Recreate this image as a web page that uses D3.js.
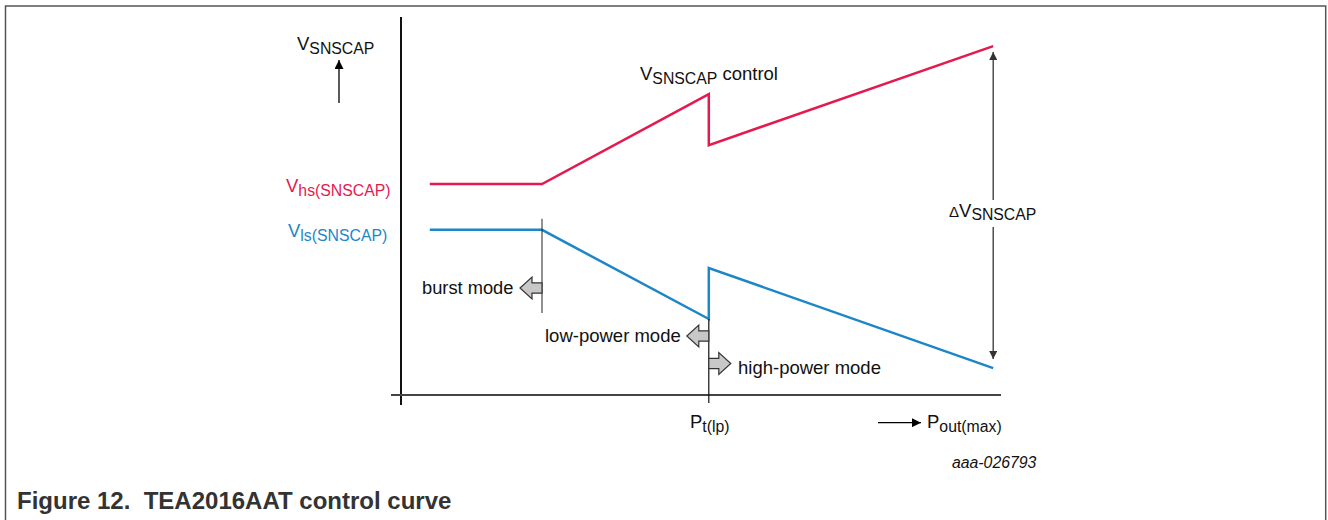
<!DOCTYPE html>
<html>
<head>
<meta charset="utf-8">
<script src="https://cdn.jsdelivr.net/npm/d3@7"></script>
<style>
  html, body { margin: 0; padding: 0; background: #fff; }
  svg { display: block; font-family: "Liberation Sans", Arial, Helvetica, sans-serif; }
</style>
</head>
<body>
<svg id="chart" width="1328" height="520"></svg>
<script>
// ---- data (normalised power 0..100, normalised voltage 0..100) ----
const hsX = [4.8, 23.5, 51.3, 51.3, 98.7];
const hsY = [55.8, 55.8, 79.6, 66.1, 92.3];
const lsX = [4.8, 23.5, 51.3, 51.3, 98.7];
const lsY = [43.7, 43.7, 20.1, 33.6, 7.1];
const burstX = 23.5;   // burst mode boundary
const ptlpX = 51.3;    // Pt(lp)
const deltaX = 98.7;   // ΔV marker position
const seriesNames = ["hs(SNSCAP)", "ls(SNSCAP)"];
const colors = ["#e6194f", "#1c86c8"];

const svg = d3.select("#chart");
const x = d3.scaleLinear().domain([0, 100]).range([401, 1001]);
const y = d3.scaleLinear().domain([0, 100]).range([395, 17]);

// outer frame
svg.append("path").attr("d", "M5.5,520 V6 H1325.7 V520")
  .attr("fill", "none").attr("stroke", "#555").attr("stroke-width", 1.5);

// defs: arrowheads
const defs = svg.append("defs");
function marker(id, color, w, h) {
  defs.append("marker").attr("id", id).attr("viewBox", "0 0 10 10")
    .attr("refX", 10).attr("refY", 5).attr("markerUnits", "userSpaceOnUse")
    .attr("markerWidth", w).attr("markerHeight", h).attr("orient", "auto-start-reverse")
    .append("path").attr("d", "M0,0 L10,5 L0,10 Z").attr("fill", color);
}
marker("ah", "#000", 12, 9);
marker("ahg", "#333", 12, 8);

// axes
svg.append("line").attr("x1", x(0)).attr("x2", x(0)).attr("y1", y(100)).attr("y2", y(0) + 10)
  .attr("stroke", "#111").attr("stroke-width", 2);
svg.append("line").attr("x1", x(0) - 10).attr("x2", x(100)).attr("y1", y(0)).attr("y2", y(0))
  .attr("stroke", "#444").attr("stroke-width", 2);

// series lines
const line = d3.line().x(d => x(d[0])).y(d => y(d[1]));
[[hsX, hsY], [lsX, lsY]].forEach((s, i) => {
  svg.append("path").datum(s[0].map((v, j) => [v, s[1][j]]))
    .attr("d", line).attr("fill", "none").attr("stroke", colors[i])
    .attr("stroke-width", 2.5).attr("stroke-linejoin", "miter");
});

// vertical mode boundary markers
svg.append("line").attr("x1", x(burstX)).attr("x2", x(burstX))
  .attr("y1", y(lsY[1]) - 11).attr("y2", 313).attr("stroke", "#222").attr("stroke-width", 1);
svg.append("line").attr("x1", x(ptlpX)).attr("x2", x(ptlpX))
  .attr("y1", y(lsY[2])).attr("y2", y(0) + 8).attr("stroke", "#111").attr("stroke-width", 1.2);

// block arrows
function blockArrow(x0, cy, dir) {
  const shaftL = 10, headL = 12, sh = 5.2, hh = 11;
  const p = [
    [x0, cy - sh], [x0 + dir * shaftL, cy - sh], [x0 + dir * shaftL, cy - hh],
    [x0 + dir * (shaftL + headL), cy], [x0 + dir * shaftL, cy + hh],
    [x0 + dir * shaftL, cy + sh], [x0, cy + sh]
  ];
  svg.append("path").attr("d", "M" + p.map(d => d.join(",")).join("L") + "Z")
    .attr("fill", "#c8c8c8").attr("stroke", "#333").attr("stroke-width", 1.2);
}
blockArrow(x(burstX), 288, -1);
blockArrow(x(ptlpX), 336, -1);
blockArrow(x(ptlpX), 363.5, 1);

// text helpers
function subText(xp, yp, main, sub, color, mainSize, subSize, extra) {
  const t = svg.append("text").attr("x", xp).attr("y", yp).attr("fill", color)
    .attr("font-size", mainSize);
  t.append("tspan").text(main);
  t.append("tspan").attr("font-size", subSize).attr("dy", 3.5).text(sub);
  if (extra) t.append("tspan").attr("dy", -3.5).attr("font-size", mainSize).text(extra);
  return t;
}

// y-axis label + up arrow
subText(297, 50, "V", "SNSCAP", "#111", 18.5, 15.8);
svg.append("line").attr("x1", 339).attr("x2", 339).attr("y1", 103).attr("y2", 60)
  .attr("stroke", "#000").attr("stroke-width", 1.3).attr("marker-end", "url(#ah)");

// series labels
subText(286, 192, "V", seriesNames[0], colors[0], 18.5, 15.8);
subText(288, 237, "V", seriesNames[1], colors[1], 18.5, 15.8);

// control label
subText(640, 80, "V", "SNSCAP", "#111", 18.5, 15.8, " control");

// delta arrow
svg.append("line").attr("x1", x(deltaX)).attr("x2", x(deltaX)).attr("y1", 200).attr("y2", 52)
  .attr("stroke", "#333").attr("stroke-width", 1.3).attr("marker-end", "url(#ahg)");
svg.append("line").attr("x1", x(deltaX)).attr("x2", x(deltaX)).attr("y1", 227).attr("y2", 359)
  .attr("stroke", "#333").attr("stroke-width", 1.3).attr("marker-end", "url(#ahg)");
{
  const t = svg.append("text").attr("x", 949).attr("y", 217).attr("fill", "#111");
  t.append("tspan").attr("font-size", 15).text("Δ");
  t.append("tspan").attr("font-size", 18.5).text("V");
  t.append("tspan").attr("font-size", 15.8).attr("dy", 3).text("SNSCAP");
}

// mode labels
svg.append("text").attr("x", 422).attr("y", 294).attr("font-size", 18.3).attr("fill", "#111").text("burst mode");
svg.append("text").attr("x", 545).attr("y", 342).attr("font-size", 18.5).attr("fill", "#111").text("low-power mode");
svg.append("text").attr("x", 738).attr("y", 374).attr("font-size", 18.5).attr("fill", "#111").text("high-power mode");

// x labels
subText(690, 428, "P", "t(lp)", "#111", 18.5, 15.8);
svg.append("line").attr("x1", 878).attr("x2", 921).attr("y1", 422.7).attr("y2", 422.7)
  .attr("stroke", "#000").attr("stroke-width", 1.3).attr("marker-end", "url(#ah)");
subText(927, 428, "P", "out(max)", "#111", 18.5, 15.8);

// figure id
svg.append("text").attr("x", 952).attr("y", 468).attr("font-size", 15.8)
  .attr("font-style", "italic").attr("fill", "#111").text("aaa-026793");

// caption
svg.append("text").attr("x", 17).attr("y", 509).attr("font-size", 24)
  .attr("font-weight", "bold").attr("fill", "#333").attr("xml:space", "preserve")
  .style("white-space", "pre").text("Figure 12.  TEA2016AAT control curve");
</script>
</body>
</html>
